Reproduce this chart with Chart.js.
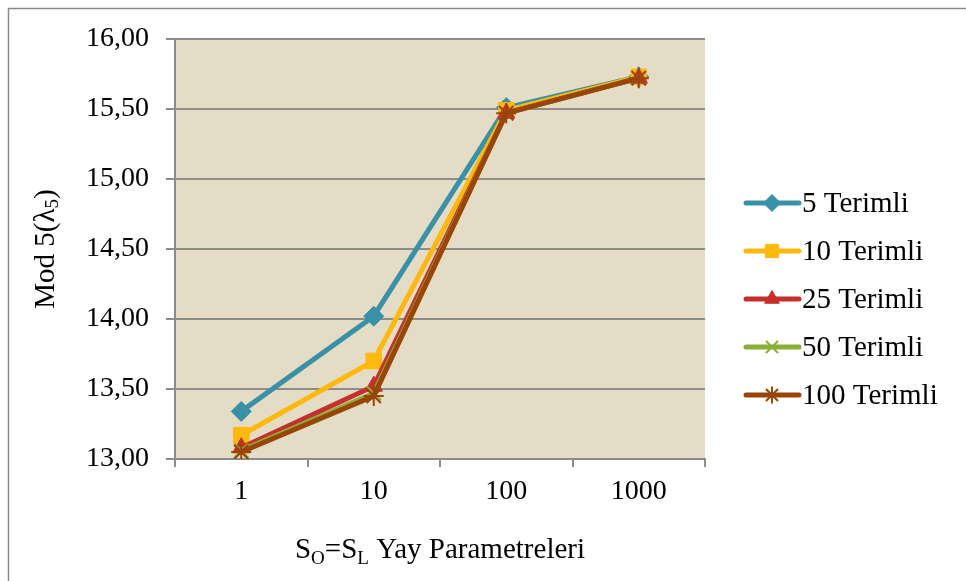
<!DOCTYPE html>
<html>
<head>
<meta charset="utf-8">
<script src="https://cdn.jsdelivr.net/npm/chart.js@4.4.0/dist/chart.umd.min.js"></script>
<style>
html,body{margin:0;padding:0;background:#fff;}
#wrap{position:relative;width:966px;height:581px;}
</style>
</head>
<body>
<div id="wrap"><canvas id="c" width="966" height="581"></canvas></div>
<script>
const categories = ['1', '10', '100', '1000'];
const seriesNames = ['5 Terimli', '10 Terimli', '25 Terimli', '50 Terimli', '100 Terimli'];
const terim5   = [13.34, 14.02, 15.51, 15.73];
const terim10  = [13.17, 13.70, 15.49, 15.73];
const terim25  = [13.08, 13.52, 15.47, 15.72];
const terim50  = [13.06, 13.47, 15.47, 15.72];
const terim100 = [13.05, 13.45, 15.47, 15.72];
const yTickLabels = ['13,00', '13,50', '14,00', '14,50', '15,00', '15,50', '16,00'];

const colors = ['#3891A7', '#FFB80D', '#C5302D', '#8AAF38', '#984505'];
const styles = ['rectRot', 'rect', 'triangle', 'crossRot', 'star'];
const radii = [10, 11, 10, 10, 10];
const allData = [terim5, terim10, terim25, terim50, terim100];

const FONT = '"Liberation Serif", "Times New Roman", serif';
const TICK_SIZE = 28;
const TEXT_SIZE = 29;

const datasets = allData.map((d, i) => ({
  label: seriesNames[i],
  data: d,
  borderColor: colors[i],
  backgroundColor: colors[i],
  pointBackgroundColor: colors[i],
  pointBorderColor: colors[i],
  pointStyle: styles[i],
  pointRadius: radii[i],
  pointBorderWidth: (styles[i] === 'crossRot' || styles[i] === 'star') ? 2 : 1,
  borderWidth: 5,
  tension: 0,
  order: allData.length - 1 - i
}));

const bgPlugin = {
  id: 'bg',
  beforeDraw(chart) {
    const {ctx, chartArea: a} = chart;
    ctx.save();
    ctx.fillStyle = '#E5DCC6';
    ctx.fillRect(a.left, a.top, a.right - a.left, a.bottom - a.top);
    ctx.restore();
  },
  afterDraw(chart) {
    const {ctx, chartArea: a} = chart;
    ctx.save();
    ctx.strokeStyle = '#8a8a8a';
    ctx.lineWidth = 1.5;
    ctx.beginPath();
    ctx.moveTo(8.5, 581);
    ctx.lineTo(8.5, 8.5);
    ctx.lineTo(966, 8.5);
    ctx.stroke();

    // y axis title with subscript
    ctx.fillStyle = '#000';
    ctx.translate(46, (a.top + a.bottom) / 2);
    ctx.rotate(-Math.PI / 2);
    ctx.textBaseline = 'middle';
    const yparts = [['Mod 5(λ', TEXT_SIZE, 0], ['5', 19, 7], [')', TEXT_SIZE, 0]];
    let tw0 = 0;
    yparts.forEach(p => { ctx.font = p[1] + 'px ' + FONT; tw0 += ctx.measureText(p[0]).width; });
    let x = -tw0 / 2;
    ctx.textAlign = 'left';
    yparts.forEach(p => {
      ctx.font = p[1] + 'px ' + FONT;
      ctx.fillText(p[0], x, p[2]);
      x += ctx.measureText(p[0]).width;
    });
    ctx.restore();

    // x axis title with subscripts
    ctx.save();
    ctx.fillStyle = '#000';
    ctx.textBaseline = 'alphabetic';
    ctx.textAlign = 'left';
    const parts = [['S', TEXT_SIZE, 0], ['O', 19, 6], ['=S', TEXT_SIZE, 0], ['L', 19, 6], [' Yay Parametreleri', TEXT_SIZE, 0]];
    let tw = 0;
    parts.forEach(p => { ctx.font = p[1] + 'px ' + FONT; tw += ctx.measureText(p[0]).width; });
    let xx = (a.left + a.right) / 2 - tw / 2;
    const by = 558;
    parts.forEach(p => {
      ctx.font = p[1] + 'px ' + FONT;
      ctx.fillText(p[0], xx, by + p[2]);
      xx += ctx.measureText(p[0]).width;
    });
    ctx.restore();

    // custom legend: line + marker + text
    ctx.save();
    const ly0 = 203, lstep = 48;
    chart.data.datasets.forEach((ds, i) => {
      const y = ly0 + i * lstep;
      ctx.strokeStyle = ds.borderColor;
      ctx.lineWidth = 5;
      ctx.lineCap = 'round';
      ctx.beginPath();
      ctx.moveTo(746, y);
      ctx.lineTo(799, y);
      ctx.stroke();
      ctx.fillStyle = ds.borderColor;
      ctx.strokeStyle = ds.borderColor;
      ctx.lineWidth = ds.pointBorderWidth;
      ctx.lineCap = 'butt';
      Chart.helpers.drawPoint(ctx, {pointStyle: ds.pointStyle, radius: ds.pointRadius * 0.85, borderWidth: ds.pointBorderWidth, rotation: 0}, 772, y);
      ctx.fillStyle = '#000';
      ctx.font = TEXT_SIZE + 'px ' + FONT;
      ctx.textBaseline = 'middle';
      ctx.textAlign = 'left';
      ctx.fillText(ds.label, 802, y + 1);
    });
    ctx.restore();
  }
};

new Chart(document.getElementById('c'), {
  type: 'line',
  data: { labels: categories, datasets },
  options: {
    responsive: false,
    animation: false,
    devicePixelRatio: 1,
    layout: { padding: { left: 0, top: 39, right: 261, bottom: 0 } },
    plugins: { legend: { display: false }, tooltip: { enabled: false } },
    scales: {
      x: {
        offset: true,
        grid: { offset: true, drawOnChartArea: false, drawTicks: true, tickLength: 8, color: '#8c8c8c', lineWidth: 2 },
        border: { display: true, color: '#8c8c8c', width: 2 },
        ticks: { color: '#000', font: { family: FONT, size: TICK_SIZE }, padding: 8 },
        afterFit(s) { s.height = 581 - 459; }
      },
      y: {
        min: 13, max: 16,
        ticks: {
          stepSize: 0.5,
          color: '#000',
          font: { family: FONT, size: TICK_SIZE },
          padding: 17,
          callback: (v) => yTickLabels[Math.round((v - 13) / 0.5)]
        },
        grid: { color: '#8c8c8c', lineWidth: 2, tickLength: 9, drawTicks: true },
        border: { display: true, color: '#8c8c8c', width: 2 },
        afterFit(s) { s.width = 175; }
      }
    }
  },
  plugins: [bgPlugin]
});
</script>
</body>
</html>
